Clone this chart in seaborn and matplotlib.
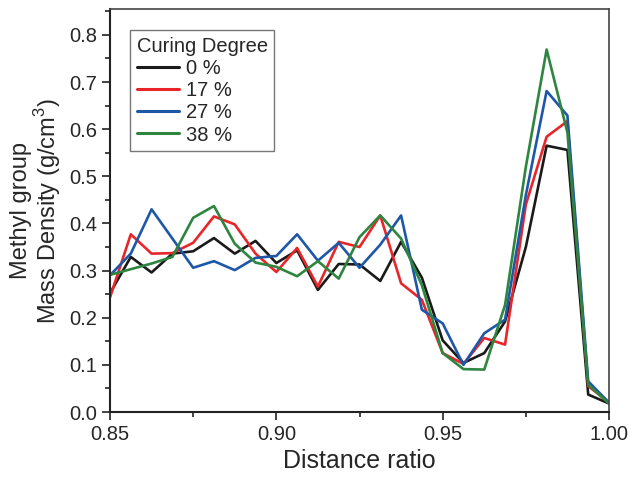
import numpy as np
import pandas as pd
import matplotlib
matplotlib.use("Agg")
import matplotlib.pyplot as plt
from matplotlib.ticker import MultipleLocator, FormatStrFormatter
import seaborn as sns

distance = [0.85, 0.85625, 0.8625, 0.86875, 0.875, 0.88125, 0.8875, 0.89375,
            0.9, 0.90625, 0.9125, 0.91875, 0.925, 0.93125, 0.9375, 0.94375,
            0.95, 0.95625, 0.9625, 0.96875, 0.975, 0.98125, 0.9875, 0.99375, 1.0]

cure_0 = [0.252, 0.329, 0.296, 0.336, 0.341, 0.369, 0.336, 0.363, 0.316, 0.343,
          0.259, 0.314, 0.313, 0.278, 0.361, 0.285, 0.152, 0.104, 0.125, 0.192,
          0.350, 0.565, 0.556, 0.037, 0.018]
cure_17 = [0.243, 0.377, 0.336, 0.337, 0.359, 0.415, 0.398, 0.336, 0.297, 0.348,
           0.266, 0.361, 0.350, 0.417, 0.273, 0.238, 0.125, 0.102, 0.157, 0.143,
           0.440, 0.584, 0.617, 0.055, 0.020]
cure_27 = [0.290, 0.336, 0.430, 0.368, 0.306, 0.320, 0.301, 0.327, 0.331, 0.377,
           0.321, 0.359, 0.306, 0.355, 0.417, 0.217, 0.188, 0.100, 0.167, 0.196,
           0.460, 0.681, 0.629, 0.065, 0.020]
cure_38 = [0.291, 0.303, 0.315, 0.329, 0.412, 0.437, 0.357, 0.317, 0.308, 0.288,
           0.320, 0.283, 0.371, 0.417, 0.368, 0.269, 0.125, 0.091, 0.090, 0.227,
           0.520, 0.769, 0.593, 0.058, 0.018]

labels = ["0 %", "17 %", "27 %", "38 %"]
colors = ["#1a1a1a", "#e8262a", "#1f57a8", "#2e8540"]

frames = []
for lab, vals in zip(labels, [cure_0, cure_17, cure_27, cure_38]):
    frames.append(pd.DataFrame({"Distance ratio": distance, "Density": vals, "Curing Degree": lab}))
df = pd.concat(frames, ignore_index=True)

sns.set_theme(style="ticks")
plt.rcParams["font.family"] = ["Liberation Sans", "DejaVu Sans"]
plt.rcParams["mathtext.fontset"] = "custom"
plt.rcParams["mathtext.rm"] = "Liberation Sans"

fig = plt.figure(figsize=(6.3, 4.83), dpi=100)
ax = fig.add_axes([110/630, (483-412)/483, (609-110)/630, (412-9)/483])

sns.lineplot(data=df, x="Distance ratio", y="Density", hue="Curing Degree",
             hue_order=labels, palette=colors, linewidth=1.9, ax=ax,
             sort=False, estimator=None)

ax.set_xlim(0.85, 1.0)
ax.set_ylim(0, 0.855)
ax.xaxis.set_major_locator(MultipleLocator(0.05))
ax.xaxis.set_minor_locator(MultipleLocator(0.025))
ax.yaxis.set_major_locator(MultipleLocator(0.1))
ax.yaxis.set_minor_locator(MultipleLocator(0.05))
ax.xaxis.set_major_formatter(FormatStrFormatter("%.2f"))
ax.yaxis.set_major_formatter(FormatStrFormatter("%.1f"))
ax.set_yticks(np.arange(0, 0.81, 0.1))

ax.tick_params(axis="both", which="major", direction="out", length=6, width=1.2,
               labelsize=14.5, color="#222222", pad=3)
ax.tick_params(axis="both", which="minor", direction="out", length=3.5, width=1.2,
               color="#222222")

for s in ["left", "bottom"]:
    ax.spines[s].set_color("#222222")
    ax.spines[s].set_linewidth(1.5)
for s in ["top", "right"]:
    ax.spines[s].set_visible(True)
    ax.spines[s].set_color("#444444")
    ax.spines[s].set_linewidth(1.2)

ax.set_xlabel("Distance ratio", fontsize=18, labelpad=4)
ax.set_ylabel("Methyl group\nMass Density (g/cm$^3$)", fontsize=17, labelpad=5,
              linespacing=1.0)

leg = ax.legend(title="Curing Degree", loc="upper left",
                bbox_to_anchor=(20/499, (412-30)/403), borderaxespad=0,
                fontsize=14.5, title_fontsize=14.5, frameon=True, fancybox=False,
                handlelength=2.1, handletextpad=0.35, labelspacing=0.16,
                borderpad=0.33, alignment="left")
leg.get_frame().set_edgecolor("#555555")
leg.get_frame().set_linewidth(1.0)
for line in leg.get_lines():
    line.set_linewidth(2.2)

fig.savefig("out.png", dpi=100)
